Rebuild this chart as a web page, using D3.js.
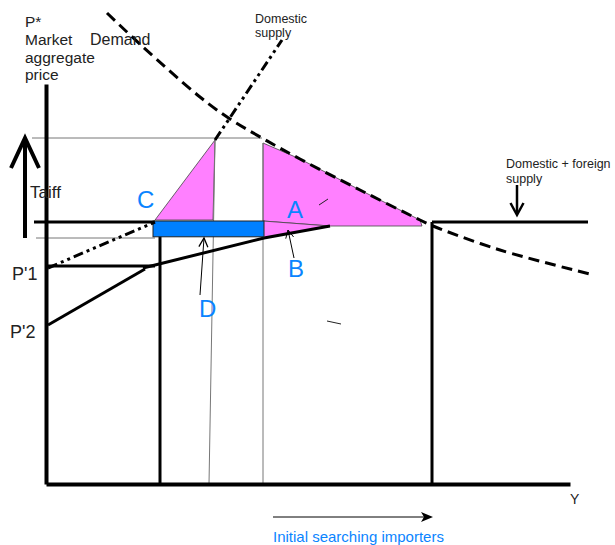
<!DOCTYPE html>
<html><head><meta charset="utf-8">
<script src="https://cdn.jsdelivr.net/npm/d3@7"></script>
<style>body{margin:0;background:#fff}svg{display:block}text{font-family:"Liberation Sans",Arial,sans-serif}</style>
</head><body><svg id="c" width="615" height="545"></svg>
<script>
// ---- data (quantity Q, price P) ----
const demand = [[12.2,117.75],[19.2,109.5],[30.8,96.75],[36.8,91.25],[43.2,86.5],[50.8,81.25],[62.8,73.5],[74.8,66],[77.4,64.5],[90.8,58.5],[108.8,52.5]];
const domSupplyLow = [[0.4,54],[21.8,65.5]];
const domSupplyHigh = [[33.8,86],[47.2,111]];
const importLow = [[0.4,39.75],[19.8,53.75]];
const importHigh = [[19.4,54],[43.6,61.5],[56.8,64.5]];
const prices = [65.5, 86.5, 61.5, 54.5, 39.75]; // tariff, upper, lower, P'1, P'2
const quantities = [21.8, 22.8, 32.6, 33.6, 43.4, 56.8, 75.2, 77.2]; // C, K, D-line, C-top, M, B tip, A tip, E
const areaC = [[21.8,66],[33.8,86],[33.4,66]];
const areaB = [[43.4,65.75],[56.8,64.5],[43.4,61.5]];
const blueBox = [[21.4,65.75],[43.6,61.8]];
const tickLabels = ["P'1","P'2"];

const svg = d3.select("#c");
const x = d3.scaleLinear().domain([0,104.8]).range([46,570]);
const y = d3.scaleLinear().domain([0,100]).range([484,84]);
const line = d3.line().x(d=>x(d[0])).y(d=>y(d[1]));
const [pT,pU,pL,p1,p2] = prices;
const [qC,qK,qD,qCt,qM,qB,qA,qE] = quantities;
const BLUE = "#0a84ff", PINK = "#ff80ff";

// thin guide lines
svg.append("path").attr("d",line([[-2.8,pU],[43.2,pU]])).attr("stroke","#777").attr("stroke-width",1).attr("fill","none");
svg.append("path").attr("d",line([[-2,pL],[qC,pL]])).attr("stroke","#777").attr("stroke-width",1).attr("fill","none");

// pink areas
const demA = demand.filter(d=>d[0]>43.2 && d[0]<qA);
const areaA = [[qM,85.25]].concat(demA).concat([[qA,64.5],[qB,64.5],[qM,65.75]]);
[areaA, areaB, areaC].forEach(a=>{
  svg.append("path").attr("d",line(a)+"Z").attr("fill",PINK).attr("stroke","#444").attr("stroke-width",0.8);
});

// thin verticals
svg.append("path").attr("d",line([[qCt+0.2,86],[qD,0]])).attr("stroke","#777").attr("stroke-width",1).attr("fill","none");
svg.append("path").attr("d",line([[qM,85.25],[qM,0]])).attr("stroke","#777").attr("stroke-width",1).attr("fill","none");

// thick lines
const thick = (pts,w)=>svg.append("path").attr("d",line(pts)).attr("stroke","#000").attr("stroke-width",w||3).attr("fill","none");
thick([[-2.4,pT],[qC,pT]]);
thick([[qE,pT],[108.4,pT]]);
thick([[0.4,p1],[qC,p1]]);
thick(importLow);
thick(importHigh);
thick([[qK,62],[qK,-0.3]]);
thick([[qE,pT],[qE,-0.5]]);

// blue box
svg.append("rect").attr("x",x(blueBox[0][0])).attr("y",y(blueBox[0][1]))
  .attr("width",x(blueBox[1][0])-x(blueBox[0][0])).attr("height",y(blueBox[1][1])-y(blueBox[0][1]))
  .attr("fill","#0080ff").attr("stroke","#222").attr("stroke-width",1);

// curves
svg.append("path").attr("d",d3.line().x(d=>x(d[0])).y(d=>y(d[1])).curve(d3.curveCatmullRom)(demand))
  .attr("fill","none").attr("stroke","#000").attr("stroke-width",3).attr("stroke-dasharray","11,6");
[domSupplyLow, domSupplyHigh].forEach(s=>{
  svg.append("path").attr("d",line(s)).attr("fill","none").attr("stroke","#000").attr("stroke-width",3)
    .attr("stroke-dasharray","10,4,3,4,3,4");
});

// axes
svg.append("g").attr("transform",`translate(${x(0)},0)`).call(d3.axisLeft(y).tickValues([]).tickSizeOuter(0));
svg.append("g").attr("transform",`translate(0,${y(0)})`).call(d3.axisBottom(x).tickValues([]).tickSizeOuter(0));
svg.selectAll(".domain").attr("stroke","#000").attr("stroke-width",4);

// arrows
function arrowHead(x0,y0,dx,dy,len,half,w){
  const L=Math.hypot(dx,dy), ux=dx/L, uy=dy/L;
  const bx=x0-ux*len, by=y0-uy*len;
  svg.append("path").attr("d",`M${bx-uy*half},${by+ux*half}L${x0},${y0}L${bx+uy*half},${by-ux*half}`)
    .attr("fill","none").attr("stroke","#000").attr("stroke-width",w);
}
// Tariff arrow
svg.append("line").attr("x1",25).attr("y1",y(pL)).attr("x2",25).attr("y2",y(pU)+2).attr("stroke","#000").attr("stroke-width",4);
arrowHead(25,y(pU),0,-1,30,14,4);
// down arrow for domestic + foreign supply
svg.append("line").attr("x1",517).attr("y1",185).attr("x2",517).attr("y2",214).attr("stroke","#000").attr("stroke-width",2.5);
arrowHead(517,215,0,1,12,6.5,2.5);
// B arrow
svg.append("line").attr("x1",294).attr("y1",258).attr("x2",288).attr("y2",230).attr("stroke","#000").attr("stroke-width",1);
arrowHead(288,230,-6,-28,8,4,1);
// D arrow
svg.append("line").attr("x1",200).attr("y1",295).attr("x2",204).attr("y2",238).attr("stroke","#000").attr("stroke-width",1);
arrowHead(204,238,4,-57,9,4.5,1.3);
// bottom arrow
svg.append("line").attr("x1",273).attr("y1",517).attr("x2",430).attr("y2",517).attr("stroke","#000").attr("stroke-width",1);
svg.append("path").attr("d","M421,512L433,517L421,522L424,517Z").attr("fill","#000");

// small strokes
svg.append("line").attr("x1",319).attr("y1",205).attr("x2",328).attr("y2",199).attr("stroke","#222").attr("stroke-width",1);
svg.append("line").attr("x1",327).attr("y1",321).attr("x2",341).attr("y2",324).attr("stroke","#222").attr("stroke-width",1);

// texts
const txt=(s,xx,yy,size,col)=>svg.append("text").attr("x",xx).attr("y",yy).attr("font-size",size).attr("fill",col||"#222").text(s);
txt("P*",25,27,15.5);
txt("Market",25,45,15.5);
txt("aggregate",25,63,15.5);
txt("price",25,80,15.5);
txt("Demand",90,45,16);
txt("Domestic",255,23,12.5);
txt("supply",255,37,12.5);
txt("Domestic + foreign",506,168,12.5);
txt("supply",506,183,12.5);
txt("Taiff",30,198,17);
txt(tickLabels[0],12,y(p1)+14,18);
txt(tickLabels[1],10,y(p2)+13,18);
txt("Y",570,504,14);
txt("C",137,208,24,BLUE);
txt("A",287,218,24,BLUE);
txt("B",288,277,24,BLUE);
txt("D",199,317,24,BLUE);
txt("Initial searching importers",273,542,15,BLUE);
</script></body></html>
